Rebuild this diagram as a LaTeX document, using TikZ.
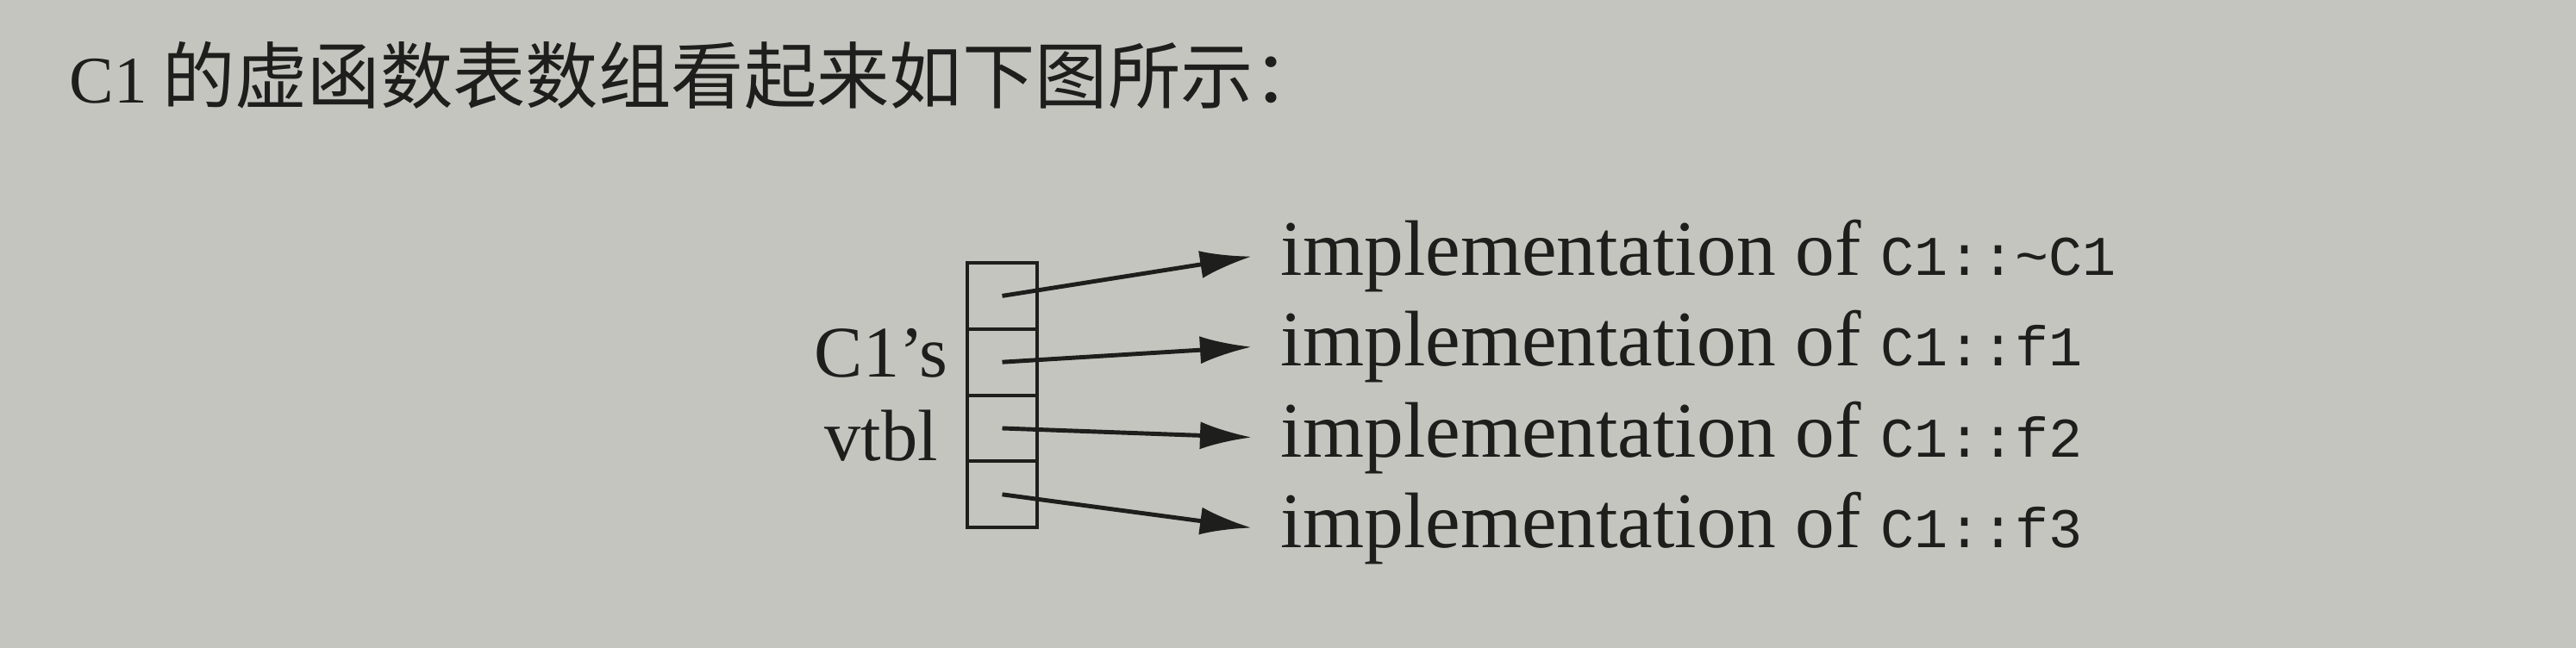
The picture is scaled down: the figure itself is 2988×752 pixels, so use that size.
\documentclass[tikz,border=0pt]{standalone}
\usepackage{fontspec}
\setmainfont{Liberation Serif}
\setmonofont{Liberation Mono}
\newfontfamily\cjk{Noto Sans CJK SC}
\usetikzlibrary{positioning,arrows.meta}
\definecolor{paper}{RGB}{197,197,192}
\definecolor{ink}{RGB}{30,30,28}
\tikzstyle{slot}=[draw=ink,line width=1.15pt,minimum width=0.81cm,minimum height=0.7675cm,inner sep=0pt,outer sep=0pt]
\newcommand{\ttcode}{\fontsize{18.5}{20}\ttfamily}
\newcommand{\vcell}[2]{\node[slot,#2] (#1) {};}
\newcommand{\impl}[3]{\node[impl] (#1) at (#2) {implementation of {\ttcode #3}};}
\newcommand{\ptr}[2]{\draw[ptr] (#1.center) -- (#2.west);}
\tikzset{
	impl/.style={anchor=base west,inner xsep=0.33cm,text=ink,font=\fontsize{26}{30}\selectfont},
	ptr/.style={draw=ink,line width=1.4pt,-{Latex[length=0.6cm,width=0.32cm]}},
}

\begin{document}
\begin{tikzpicture}[x=0.01cm,y=-0.01cm]
    \fill[paper] (0,0) rectangle (2988,752);
    \node[anchor=base west,inner sep=0pt,text=ink] (head) at (80,120)
        {{\fontsize{22}{24}\selectfont C1}\hspace{0.17cm}{\cjk\fontsize{24}{28}\selectfont 的虚函数表数组看起来如下图所示：}};

    % the vtbl, one slot per virtual function
    \node[slot] (c1) at (1162.5,343.4) {};
    \vcell{c2}{below=0pt of c1}
    \vcell{c3}{below=0pt of c2}
    \vcell{c4}{below=0pt of c3}
    \node[left=0.1cm of c2.south west,align=center,text=ink,font=\fontsize{24}{27.5}\selectfont] (lbl) {C1’s\\vtbl};

    \impl{i1}{1452,320}{C1::\textasciitilde C1}
    \impl{i2}{1452,425}{C1::f1}
    \impl{i3}{1452,530}{C1::f2}
    \impl{i4}{1452,635}{C1::f3}

    \ptr{c1}{i1}
    \ptr{c2}{i2}
    \ptr{c3}{i3}
    \ptr{c4}{i4}
\end{tikzpicture}
\end{document}
